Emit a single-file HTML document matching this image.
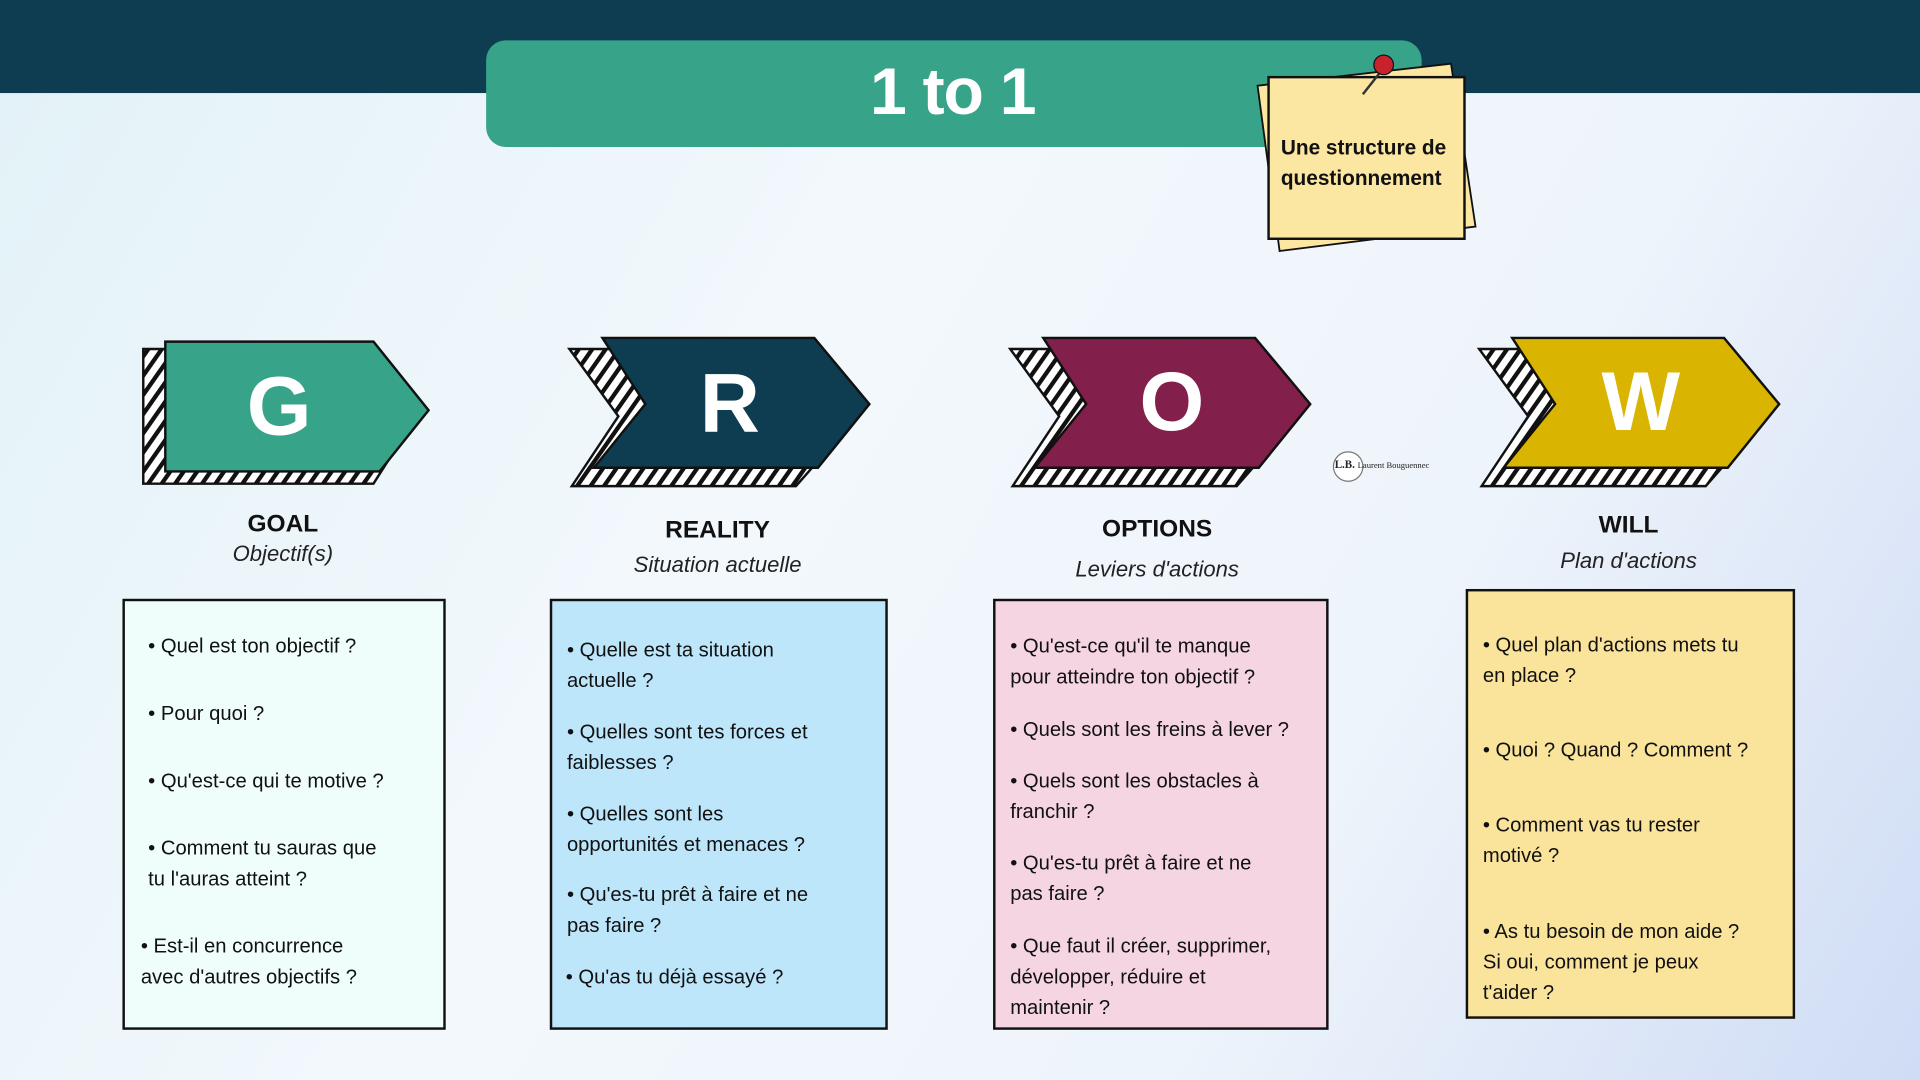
<!DOCTYPE html>
<html><head><meta charset="utf-8"><style>
html,body{margin:0;padding:0;width:1920px;height:1080px;overflow:hidden;}
#w{position:absolute;left:0;top:0;width:1568px;height:882px;transform:scale(1.22449);transform-origin:0 0;
background:linear-gradient(120deg,#e2f2f8 0%,#f3f8fc 40%,#eef4fb 70%,#cfdcf5 100%);font-family:"Liberation Sans",sans-serif;}
.t{position:absolute;white-space:nowrap;}
.h{font-weight:bold;font-size:20px;color:#111;transform:translateX(-50%);}
.s{font-style:italic;font-size:18px;color:#222;transform:translateX(-50%);}
.box{position:absolute;border:2px solid #111;box-sizing:border-box;font-size:16.5px;color:#111;line-height:25px;}
.box div{position:absolute;white-space:nowrap;}
.L{position:absolute;font-weight:bold;color:#fff;font-size:68px;transform:translate(-50%,-50%);}
</style></head><body><div id="w">
<div style="position:absolute;left:0;top:0;width:1568px;height:76px;background:#0e3d52"></div>
<div style="position:absolute;left:397px;top:33px;width:764px;height:87px;background:#37a48a;border-radius:16px"></div>
<div class="t" style="left:778px;top:44px;transform:translateX(-50%);color:#fff;font-weight:bold;font-size:54px;letter-spacing:-1px">1 to 1</div>
<svg style="position:absolute;left:0;top:0" width="1568" height="882">
<defs><pattern id="hp" width="9" height="9" patternUnits="userSpaceOnUse" patternTransform="rotate(35)"><rect width="9" height="9" fill="#fff"/><rect width="3.5" height="9" fill="#111"/></pattern></defs>
<polygon points="1027,70 1185,52 1205,185 1045,205" fill="#fbe7a1" stroke="#111" stroke-width="1.5"/>
<rect x="1036" y="63" width="160" height="132" fill="#fbe7a1" stroke="#111" stroke-width="2"/>
<line x1="1128" y1="58" x2="1113" y2="77" stroke="#333" stroke-width="2"/>
<circle cx="1130" cy="53" r="8" fill="#c8232c" stroke="#111"/>
<!-- G -->
<polygon points="117,285 305,285 343,335 305,395 117,395" fill="url(#hp)" stroke="#111" stroke-width="2"/>
<polygon points="135,279 305,279 350,335 310,385 135,385" fill="#37a48a" stroke="#111" stroke-width="2"/>
<!-- R -->
<polygon points="465,285 660,285 700,340 650,397 467,397 505,340" fill="url(#hp)" stroke="#111" stroke-width="2"/>
<polygon points="492,276 665,276 710,330 668,382 485,382 527,330" fill="#0e3d52" stroke="#111" stroke-width="2"/>
<!-- O -->
<polygon points="825,285 1020,285 1060,340 1010,397 827,397 865,340" fill="url(#hp)" stroke="#111" stroke-width="2"/>
<polygon points="852,276 1025,276 1070,330 1028,382 845,382 887,330" fill="#821f4a" stroke="#111" stroke-width="2"/>
<!-- W -->
<polygon points="1208,285 1403,285 1443,340 1393,397 1210,397 1248,340" fill="url(#hp)" stroke="#111" stroke-width="2"/>
<polygon points="1235,276 1408,276 1453,330 1411,382 1228,382 1270,330" fill="#d9b400" stroke="#111" stroke-width="2"/>
<circle cx="1101" cy="381" r="12" fill="#fff" stroke="#777"/>
</svg>
<div class="t" style="left:1046px;top:108px;font-weight:bold;font-size:17px;line-height:25px;color:#111">Une structure de<br>questionnement</div>
<div class="t" style="left:1090px;top:374px;font-size:9px;font-family:'Liberation Serif',serif;color:#222"><b>L.B.</b> <span style="font-size:7px">Laurent Bouguennec</span></div>
<div class="L" style="left:228px;top:332px">G</div>
<div class="L" style="left:596px;top:330px">R</div>
<div class="L" style="left:957px;top:328px">O</div>
<div class="L" style="left:1340px;top:328px">W</div>
<div class="t h" style="left:231px;top:417px">GOAL</div><div class="t s" style="left:231px;top:442px">Objectif(s)</div>
<div class="t h" style="left:586px;top:422px">REALITY</div><div class="t s" style="left:586px;top:451px">Situation actuelle</div>
<div class="t h" style="left:945px;top:421px">OPTIONS</div><div class="t s" style="left:945px;top:455px">Leviers d'actions</div>
<div class="t h" style="left:1330px;top:418px">WILL</div><div class="t s" style="left:1330px;top:448px">Plan d'actions</div>
<div class="box" style="left:100px;top:489px;width:264px;height:352px;background:#effdfb">
<div style="left:19px;top:25px">• Quel est ton objectif ?</div>
<div style="left:19px;top:80px">• Pour quoi ?</div>
<div style="left:19px;top:135px">• Qu'est-ce qui te motive ?</div>
<div style="left:19px;top:190px">• Comment tu sauras que<br>tu l'auras atteint ?</div>
<div style="left:13px;top:270px">• Est-il en concurrence<br>avec d'autres objectifs ?</div>
</div>
<div class="box" style="left:449px;top:489px;width:276px;height:352px;background:#bde6fb">
<div style="left:12px;top:28px">• Quelle est ta situation<br>actuelle ?</div>
<div style="left:12px;top:95px">• Quelles sont tes forces et<br>faiblesses ?</div>
<div style="left:12px;top:162px">• Quelles sont les<br>opportunités et menaces ?</div>
<div style="left:12px;top:228px">• Qu'es-tu prêt à faire et ne<br>pas faire ?</div>
<div style="left:11px;top:295px">• Qu'as tu déjà essayé ?</div>
</div>
<div class="box" style="left:811px;top:489px;width:274px;height:352px;background:#f5d5e2">
<div style="left:12px;top:25px">• Qu'est-ce qu'il te manque<br>pour atteindre ton objectif ?</div>
<div style="left:12px;top:93px">• Quels sont les freins à lever ?</div>
<div style="left:12px;top:135px">• Quels sont les obstacles à<br>franchir ?</div>
<div style="left:12px;top:202px">• Qu'es-tu prêt à faire et ne<br>pas faire ?</div>
<div style="left:12px;top:270px">• Que faut il créer, supprimer,<br>développer, réduire et<br>maintenir ?</div>
</div>
<div class="box" style="left:1197px;top:481px;width:269px;height:351px;background:#fae39b">
<div style="left:12px;top:32px">• Quel plan d'actions mets tu<br>en place ?</div>
<div style="left:12px;top:118px">• Quoi ? Quand ? Comment ?</div>
<div style="left:12px;top:179px">• Comment vas tu rester<br>motivé ?</div>
<div style="left:12px;top:266px">• As tu besoin de mon aide ?<br>Si oui, comment je peux<br>t'aider ?</div>
</div>
</div></body></html>
